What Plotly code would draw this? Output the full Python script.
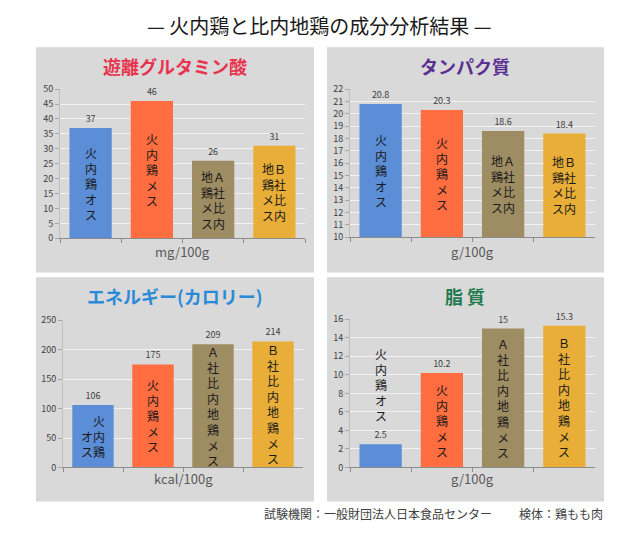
import plotly.graph_objects as go

# page body has an 8px margin; figure occupies the rest of the 640x539 window
OFF = 8
W, H = 640 - 2 * OFF, 539 - 2 * OFF

# ---------------- data ----------------
categories = ["火内鶏オス", "火内鶏メス", "A社比内地鶏メス", "B社比内地鶏メス"]
glutamic = [37, 46, 26, 31]
protein = [20.8, 20.3, 18.6, 18.4]
energy = [106, 175, 209, 214]
fat = [2.5, 10.2, 15, 15.3]

titles = ["遊離グルタミン酸", "タンパク質", "エネルギー(カロリー)", "脂 質"]
units = ["mg/100g", "g/100g", "kcal/100g", "g/100g"]
main_title = "— 火内鶏と比内地鶏の成分分析結果 —"
footer_left = "試験機関：一般財団法人日本食品センター"
footer_right = "検体：鶏もも肉"

# vertical labels inside bars (rows, top to bottom)
labels_two_col = [list("火内鶏オス"), list("火内鶏メス"),
                  ["地Ａ", "鶏社", "メ比", "ス内"], ["地Ｂ", "鶏社", "メ比", "ス内"]]
labels_energy = [["　火", "オ内", "ス鶏"], list("火内鶏メス"),
                 list("Ａ社比内地鶏メス"), list("Ｂ社比内地鶏メス")]
labels_fat = [list("火内鶏オス"), list("火内鶏メス"),
              list("Ａ社比内地鶏メス"), list("Ｂ社比内地鶏メス")]

# ---------------- style ----------------
bar_colors = ["#5B8ED6", "#FF6D40", "#9E8C62", "#E8AE38"]
title_colors = ["#E8344E", "#5A3092", "#2B8AD8", "#1F7A4F"]
panel_bg = "#D9D9D9"
FONT = "Noto Sans CJK JP"


def px_x(x):
    return (x - OFF) / W


def px_y(y):
    return 1 - (y - OFF) / H


panels = [
    dict(values=glutamic, rng=[0, 50], dtick=5, labels=labels_two_col,
         xdom=[60, 305], ydom=[237, 84], box=[36, 41, 314, 272], title_y=60, unit_shift=-2,
         above=[False] * 4),
    dict(values=protein, rng=[10, 22], dtick=1, labels=labels_two_col,
         xdom=[350, 595], ydom=[236, 84], box=[327, 41, 604, 272], title_y=60, unit_shift=-3,
         above=[False] * 4),
    dict(values=energy, rng=[0, 250], dtick=50, labels=labels_energy,
         xdom=[63, 303], ydom=[472, 321], box=[36, 277, 314, 507], title_y=296, unit_shift=0,
         above=[False] * 4),
    dict(values=fat, rng=[0, 16], dtick=2, labels=labels_fat,
         xdom=[350, 595], ydom=[472, 320], box=[327, 277, 604, 507], title_y=296, unit_shift=0,
         above=[True, False, False, False]),
]

fig = go.Figure()
shapes = []
annotations = []
LABEL_SIZE = 12

for i, p in enumerate(panels):
    n = i + 1
    xa = "x" if n == 1 else f"x{n}"
    ya = "y" if n == 1 else f"y{n}"
    fig.add_trace(go.Bar(
        x=categories, y=p["values"], xaxis=xa, yaxis=ya,
        marker=dict(color=bar_colors, line=dict(width=0)),
        text=[str(v) for v in p["values"]], textposition="outside",
        textfont=dict(size=9, color="#404040", family=FONT),
        cliponaxis=False, showlegend=False, hoverinfo="x+y",
    ))
    axkey = "xaxis" if n == 1 else f"xaxis{n}"
    aykey = "yaxis" if n == 1 else f"yaxis{n}"
    fig.update_layout(**{
        axkey: dict(domain=[px_x(p["xdom"][0]), px_x(p["xdom"][1])], anchor=ya,
                    showticklabels=False, ticks="outside", ticklen=4, tickcolor="#8C8C8C",
                    tickson="boundaries", showline=True, linecolor="#8C8C8C", linewidth=1,
                    showgrid=False, zeroline=False, fixedrange=True),
        aykey: dict(domain=[px_y(p["ydom"][0]), px_y(p["ydom"][1])], anchor=xa,
                    range=p["rng"], dtick=p["dtick"], tick0=p["rng"][0],
                    ticks="outside", ticklen=4, tickcolor="#A6A6A6",
                    showline=True, linecolor="#BFBFBF", linewidth=1,
                    showgrid=True, gridcolor="#F2F2F2", gridwidth=1, zeroline=False,
                    tickfont=dict(size=9, color="#404040", family=FONT), fixedrange=True),
    })
    b = p["box"]
    shapes.append(dict(type="rect", xref="paper", yref="paper", layer="below",
                       x0=px_x(b[0]), x1=px_x(b[2]), y0=px_y(b[3]), y1=px_y(b[1]),
                       fillcolor=panel_bg, line=dict(width=0)))
    # panel title
    annotations.append(dict(xref="paper", yref="paper",
                            x=px_x((b[0] + b[2]) / 2), y=px_y(p["title_y"]),
                            text=f"<b>{titles[i]}</b>", showarrow=False,
                            xanchor="center", yanchor="middle",
                            font=dict(size=18, color=title_colors[i], family=FONT)))
    # unit label
    annotations.append(dict(xref=f"{xa} domain", yref=f"{ya} domain", x=0.5, y=0,
                            yanchor="top", xanchor="center", yshift=p["unit_shift"],
                            text=units[i], showarrow=False,
                            font=dict(size=13, color="#595959", family=FONT)))
    # vertical labels inside/above bars (one wrapped text per bar)
    base = p["rng"][0]
    for j, cat in enumerate(categories):
        rows = p["labels"][j]
        v = p["values"][j]
        if p["above"][j]:
            yc, extra = v, 60
        else:
            yc, extra = (base + v) / 2, 0
        annotations.append(dict(xref=xa, yref=ya, x=cat, y=yc, yshift=extra,
                                text="<br>".join(rows), showarrow=False,
                                xanchor="center", yanchor="middle", align="center",
                                font=dict(size=LABEL_SIZE, color="#1A1A1A", family=FONT)))

annotations.append(dict(xref="paper", yref="paper", x=px_x(319), y=px_y(19),
                        text=main_title, showarrow=False, xanchor="center", yanchor="middle",
                        font=dict(size=20, color="#1A1A1A", family=FONT)))
annotations.append(dict(xref="paper", yref="paper", x=px_x(494), y=px_y(519),
                        text=footer_left, showarrow=False, xanchor="right", yanchor="middle",
                        font=dict(size=12, color="#404040", family=FONT)))
annotations.append(dict(xref="paper", yref="paper", x=px_x(605), y=px_y(519),
                        text=footer_right, showarrow=False, xanchor="right", yanchor="middle",
                        font=dict(size=12, color="#404040", family=FONT)))

fig.update_layout(
    width=W, height=H, margin=dict(l=0, r=0, t=0, b=0),
    paper_bgcolor="white", plot_bgcolor="rgba(0,0,0,0)",
    bargap=0.31, shapes=shapes, annotations=annotations,
    font=dict(family=FONT),
)

fig.write_html("out.html")
